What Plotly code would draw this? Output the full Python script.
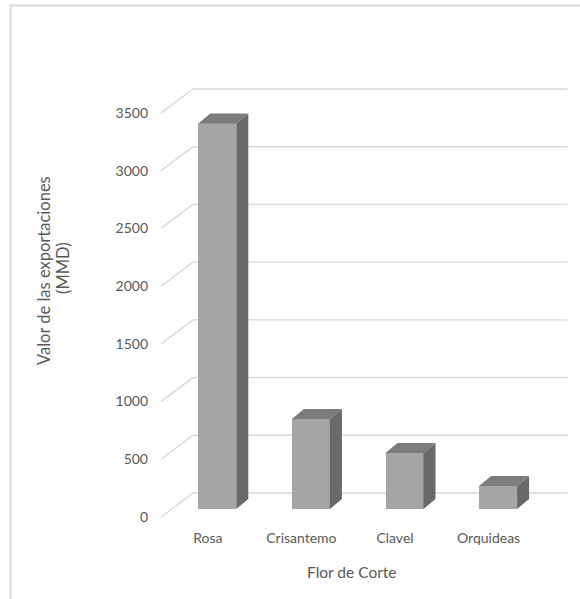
import plotly.graph_objects as go

# Export value of cut flowers (millions of dollars)
categories = ["Rosa", "Crisantemo", "Clavel", "Orquideas"]
values = [3340, 780, 485, 200]
y_ticks = [0, 500, 1000, 1500, 2000, 2500, 3000, 3500]

# ---- geometry of the pseudo-3D projection (in axis units) ----
W, H = 580, 599
ML, MR, MT, MB = 161, 5, 60, 82
PX_PER_CAT = 93.6
PX_PER_VAL = 0.11543
plot_w = W - ML - MR
plot_h = H - MT - MB
x_range = [-0.5, -0.5 + plot_w / PX_PER_CAT]
y_range = [0, plot_h / PX_PER_VAL]

def dx(px):
    return px / PX_PER_CAT

def dy(px):
    return px / PX_PER_VAL

WALL_DX, WALL_DY = dx(32), dy(24)      # depth of the floor / back wall
BAR_FX, BAR_FY = dx(9.5), dy(8)        # bar front face offset
BAR_BX, BAR_BY = dx(12), dy(10)        # bar depth
BAR_W = dx(38)

GRID = "#D9D9D9"
TEXT = "#595959"
FONT = "Lato"

fig = go.Figure()
n = len(categories)

# floor diagonals + back wall gridlines, kept beneath the bars
grid_shapes = []
for v in y_ticks:
    path = (f"M {-0.5},{v} L {-0.5 + WALL_DX},{v + WALL_DY} "
            f"L {n - 0.5 + WALL_DX},{v + WALL_DY}")
    grid_shapes.append(dict(type="path", xref="x", yref="y", path=path,
                            layer="below", line=dict(color=GRID, width=1.4)))

# front faces of the bars
xs = list(range(n))
fig.add_trace(go.Bar(x=[i + BAR_FX for i in xs], y=values, base=BAR_FY,
                     width=BAR_W, marker=dict(color="#A5A5A5", line=dict(width=0)),
                     showlegend=False, hovertext=categories))

# side and top faces computed from the same values
sx, sy, tx, ty = [], [], [], []
for i, v in zip(xs, values):
    l = i + BAR_FX - BAR_W / 2
    r = i + BAR_FX + BAR_W / 2
    top = v + BAR_FY
    sx += [r, r, r + BAR_BX, r + BAR_BX, r, None]
    sy += [BAR_FY, top, top + BAR_BY, BAR_FY + BAR_BY, BAR_FY, None]
    tx += [l, r, r + BAR_BX, l + BAR_BX, l, None]
    ty += [top, top, top + BAR_BY, top + BAR_BY, top, None]
fig.add_trace(go.Scatter(x=sx, y=sy, mode="lines", fill="toself",
                         fillcolor="#696969", line=dict(width=0, color="#696969"),
                         hoverinfo="skip", showlegend=False))
fig.add_trace(go.Scatter(x=tx, y=ty, mode="lines", fill="toself",
                         fillcolor="#7C7C7C", line=dict(width=0, color="#7C7C7C"),
                         hoverinfo="skip", showlegend=False))

def px_to_paper_x(px):
    return (px - ML) / plot_w

def py_to_paper_y(py):
    return (H - MB - py) / plot_h

frame = dict(type="rect", xref="paper", yref="paper", layer="below",
             x0=px_to_paper_x(10.5), x1=px_to_paper_x(600),
             y0=py_to_paper_y(620), y1=py_to_paper_y(5.5),
             line=dict(color=GRID, width=2), fillcolor="rgba(0,0,0,0)")

title_font = dict(family=FONT, size=16.5, color=TEXT)

fig.update_layout(
    width=W, height=H,
    margin=dict(l=ML, r=MR, t=MT, b=MB),
    paper_bgcolor="white", plot_bgcolor="white",
    font=dict(family=FONT, size=14, color=TEXT),
    bargap=0,
    xaxis=dict(range=x_range, tickmode="array", tickvals=xs, ticktext=categories,
               showgrid=False, zeroline=False, showline=False, ticks="",
               ticklabelstandoff=11, fixedrange=True,
               tickfont=dict(family=FONT, size=14, color=TEXT)),
    yaxis=dict(range=y_range, tickmode="array", tickvals=y_ticks,
               showgrid=False, zeroline=False, showline=False, ticks="",
               ticklabelstandoff=12, fixedrange=True,
               tickfont=dict(family=FONT, size=14, color=TEXT)),
    annotations=[
        dict(text="Valor de las exportaciones", textangle=-90,
             xref="paper", yref="paper",
             x=px_to_paper_x(44), y=py_to_paper_y(271),
             xanchor="center", yanchor="middle", showarrow=False,
             font=title_font),
        dict(text="(MMD)", textangle=-90,
             xref="paper", yref="paper",
             x=px_to_paper_x(63), y=py_to_paper_y(268),
             xanchor="center", yanchor="middle", showarrow=False,
             font=title_font),
        dict(text="Flor de Corte", xref="paper", yref="paper",
             x=px_to_paper_x(351.5), y=py_to_paper_y(572),
             xanchor="center", yanchor="middle", showarrow=False,
             font=dict(family=FONT, size=15.5, color=TEXT)),
    ],
    shapes=[frame] + grid_shapes,
)

fig.write_html("out.html")
